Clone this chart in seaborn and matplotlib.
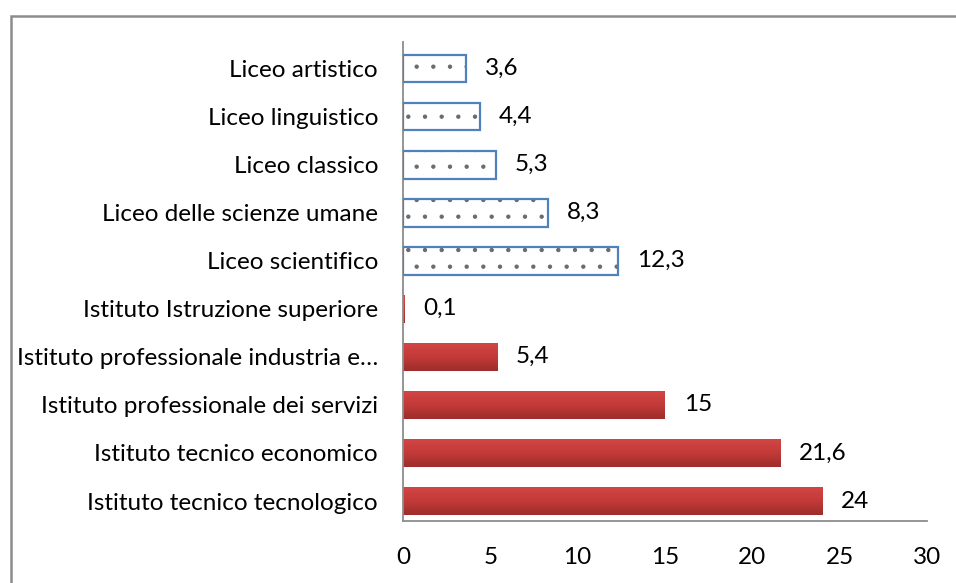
import matplotlib
matplotlib.use("Agg")
import matplotlib.pyplot as plt
import seaborn as sns
import pandas as pd
import numpy as np
from matplotlib.patches import Rectangle
from matplotlib.colors import LinearSegmentedColormap

categories = [
    "Liceo artistico",
    "Liceo linguistico",
    "Liceo classico",
    "Liceo delle scienze umane",
    "Liceo scientifico",
    "Istituto Istruzione superiore",
    "Istituto professionale industria e…",
    "Istituto professionale dei servizi",
    "Istituto tecnico economico",
    "Istituto tecnico tecnologico",
]
values = [3.6, 4.4, 5.3, 8.3, 12.3, 0.1, 5.4, 15, 21.6, 24]
groups = ["Liceo"] * 5 + ["Istituto"] * 5
value_labels = ["3,6", "4,4", "5,3", "8,3", "12,3", "0,1", "5,4", "15", "21,6", "24"]
x_ticks = [0, 5, 10, 15, 20, 25, 30]

sns.set_theme(style="white")
plt.rcParams['font.family'] = ['Lato', 'DejaVu Sans']
plt.rcParams['hatch.linewidth'] = 0.7

df = pd.DataFrame({"cat": categories, "val": values, "grp": groups, "lab": value_labels})
ist = df[df.grp == "Istituto"]
lic = df[df.grp == "Liceo"]

W, H = 956, 583
FS = 17.5
fig = plt.figure(figsize=(W / 100, H / 100), dpi=100)
ax = fig.add_axes([403 / W, (H - 521) / H, (927 - 403) / W, (521 - 42) / H])

bw = 0.58
sns.barplot(data=ist, y="cat", x="val", order=categories, orient="h", color="#C23B39",
            width=bw, ax=ax, saturation=1, linewidth=0, zorder=2)
red_bars = list(ax.patches)
sns.barplot(data=lic, y="cat", x="val", order=categories, orient="h", color="white",
            width=bw, ax=ax, saturation=1, hatch=".", edgecolor="#6A6A6A", linewidth=0, zorder=2)
sns.barplot(data=lic, y="cat", x="val", order=categories, orient="h", fill=False,
            width=bw, ax=ax, edgecolor="#4F81BD", linewidth=1.6, zorder=3)

cmap = LinearSegmentedColormap.from_list("r", ["#D24543", "#C23B39", "#9C2D2B"])
grad = np.linspace(0, 1, 64).reshape(-1, 1)
for b in red_bars:
    x0, y0, w, h = b.get_x(), b.get_y(), b.get_width(), b.get_height()
    if w <= 0:
        continue
    im = ax.imshow(grad, extent=[x0, x0 + w, y0 + h, y0], cmap=cmap, aspect="auto",
                   origin="upper", zorder=2.5, interpolation="bilinear")
    im.set_clip_path(b)

for i, (v, lab) in enumerate(zip(values, value_labels)):
    ax.annotate(lab, xy=(v, i), xytext=(13.5, 0), textcoords="offset points",
                ha="left", va="center", fontsize=FS, color="black")

ax.set_xlim(0, 30)
ax.set_ylim(9.416, -0.551)
ax.set_xticks(x_ticks)
ax.set_xticklabels([str(t) for t in x_ticks])
ax.tick_params(axis="both", length=0, labelsize=FS, colors="black")
ax.tick_params(axis="x", pad=19)
ax.tick_params(axis="y", pad=18)
ax.set_xlabel("")
ax.set_ylabel("")
for s in ["top", "right"]:
    ax.spines[s].set_visible(False)
for s in ["left", "bottom"]:
    ax.spines[s].set_color("#8C8C8C")
    ax.spines[s].set_linewidth(1.3)

fig.patches.append(Rectangle((10.5 / W, -0.5), 2, 1.5 - 15.5 / H, transform=fig.transFigure,
                             fill=False, edgecolor="#8C8C8C", linewidth=1.8))

fig.savefig("out.png", dpi=100)
